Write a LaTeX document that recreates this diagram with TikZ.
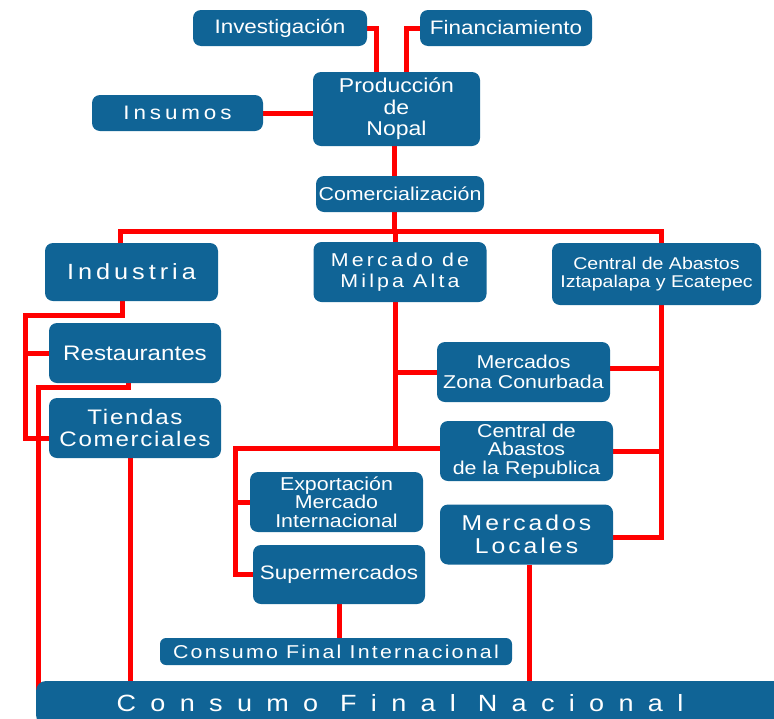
\documentclass[tikz,border=0pt]{standalone}
\usepackage{fontspec}
\setmainfont{Liberation Sans}
\newfontfamily\boxfont[FakeStretch=1.15]{Liberation Sans}
\usepackage{tikz}
\usetikzlibrary{positioning, backgrounds}
\definecolor{boxblue}{RGB}{16,100,150}
\definecolor{linkred}{RGB}{255,0,0}

\begin{document}
\begin{tikzpicture}[x=1pt, y=-1pt,
  box/.style={fill=boxblue, rounded corners=8pt, text=white, align=center, inner sep=0pt,
    minimum width=173pt, minimum height=60pt, font=\boxfont\fontsize{19.5}{21}\selectfont},
  link/.style={draw=linkred, line width=5pt}]
\useasboundingbox (0,0) rectangle (774,718);
\clip (0,0) rectangle (774,718);

% Production
\node (prod) [box, minimum width=167pt, minimum height=74pt, font=\boxfont\fontsize{20}{21.5}\selectfont] at (396.5,109) {Producción\\de\\Nopal};
\node (inv) [box, above of=prod, node distance=81pt, xshift=-116.5pt, minimum width=174pt, minimum height=36pt] {Investigación};
\node (fin) [box, right of=inv, node distance=226pt, minimum width=172pt, minimum height=36pt] {Financiamiento};
\node (ins) [box, left of=prod, node distance=219pt, yshift=-4pt, minimum width=171pt, minimum height=36pt,
  font=\boxfont\fontsize{19.5}{21}\selectfont\addfontfeature{LetterSpace=20}] {Insumos};
\node (com) [box, below of=prod, node distance=85pt, xshift=3.5pt, minimum width=168pt, minimum height=36pt,
  font=\boxfont\fontsize{18.6}{20}\selectfont] {Comercialización};

% Channels
\node (milpa) [box, below of=com, node distance=78pt, font=\boxfont\fontsize{18.6}{21}\selectfont\addfontfeature{LetterSpace=17}] {Mercado de\\Milpa Alta};
\node (ind) [box, left of=milpa, node distance=268.5pt, minimum height=58pt,
  font=\boxfont\fontsize{22}{24}\selectfont\addfontfeature{LetterSpace=18}] {Industria};
\node (ceda) [box, right of=milpa, node distance=256.5pt, yshift=-2pt, minimum width=209pt, minimum height=62pt,
  font=\boxfont\fontsize{17}{18.5}\selectfont] {Central de Abastos\\Iztapalapa y Ecatepec};
\node (rest) [box, below of=ind, node distance=81pt, xshift=3.5pt, minimum width=172pt, font=\boxfont\fontsize{21}{22}\selectfont] {Restaurantes};
\node (tiendas) [box, below of=rest, node distance=75pt, minimum width=172pt,
  font=\boxfont\fontsize{21}{22}\selectfont\addfontfeature{LetterSpace=8}] {Tiendas\\Comerciales};
\node (zona) [box, below of=milpa, node distance=100pt, xshift=123.5pt, font=\boxfont\fontsize{18.6}{20}\selectfont] {Mercados\\Zona Conurbada};
\node (rep) [box, below of=zona, node distance=79pt, xshift=3pt, font=\boxfont\fontsize{18.6}{18.5}\selectfont] {Central de\\Abastos\\de la Republica};
\node (locales) [box, below of=rep, node distance=83.5pt,
  font=\boxfont\fontsize{21.5}{23}\selectfont\addfontfeature{LetterSpace=14}] {Mercados\\Locales};
\node (expo) [box, left of=rep, node distance=190pt, yshift=-51pt, font=\boxfont\fontsize{18.6}{18.5}\selectfont] {Exportación\\Mercado\\Internacional};
\node (super) [box, below of=expo, node distance=72.5pt, xshift=2.5pt, minimum width=172pt, minimum height=59pt] {Supermercados};

% Final consumption
\node (cfi) [box, below of=super, node distance=77pt, xshift=-3pt, minimum width=352pt, minimum height=27pt, rounded corners=6pt,
  font=\boxfont\fontsize{18.6}{20}\selectfont\addfontfeature{LetterSpace=12}] {Consumo Final Internacional};
\node (cfn) [box, below of=cfi, node distance=51.5pt, xshift=95pt, minimum width=790pt, minimum height=44pt, rounded corners=10pt,
  font=\boxfont\fontsize{23.5}{26}\selectfont\addfontfeature{LetterSpace=61}] {Consumo Final Nacional\hspace*{62pt}};

\begin{scope}[on background layer]
% Inputs to production
\draw[link] (inv.east) -| ([xshift=-20.5pt]prod.north);
\draw[link] (fin.west) -| ([xshift=10pt]prod.north);
\draw[link] (ins.east) -- (ins.east -| prod.west);
\draw[link] ([xshift=-2.5pt]prod.south) -- ([xshift=-2.5pt]prod.south |- com.north);

% Main bus
\coordinate (busL) at (120,231);
\coordinate (busR) at (661,231);
\draw[link] ([xshift=-6pt]com.south) -- ([xshift=-6pt]com.south |- busL);
\draw[link] (busL |- ind.north) -- (busL) -- (busR) -- (busR |- ceda.north);
\draw[link] ([xshift=-5pt]milpa.north) -- ([xshift=-5pt]milpa.north |- busL);

% Industria branch
\coordinate (indL) at (25,315);
\coordinate (restL) at (38,387);
\draw[link] ([xshift=-9.5pt]ind.south) |- (indL) |- ([yshift=-10pt]tiendas.west);
\draw[link] (indL |- rest.west) -- (rest.west);
\draw[link] ([xshift=-7pt]rest.south) |- (restL) -- (restL |- cfn.center);
\draw[link] ([xshift=-5pt]tiendas.south) -- ([xshift=-5pt]tiendas.south |- cfn.north);

% Milpa Alta branch
\coordinate (milpaB) at (395,448);
\coordinate (expoL) at (235,448);
\draw[link] ([xshift=-5pt]milpa.south) -- (milpaB) -- (milpaB -| rep.west);
\draw[link] (milpaB |- zona.west) -- (zona.west);
\draw[link] (milpaB) -- (expoL) |- (super.west);
\draw[link] (expoL |- expo.west) -- (expo.west);

% Central de Abastos branch
\coordinate (cedaB) at (661,537);
\draw[link] ([xshift=4.5pt]ceda.south) -- (cedaB) -- (cedaB -| locales.east);
\draw[link] ([yshift=4pt]zona.east) -- ([yshift=4pt]zona.east -| cedaB);
\draw[link] (rep.east) -- (rep.east -| cedaB);

% To final consumption
\draw[link] (super.south) -- (super.south |- cfi.north);
\draw[link] ([xshift=2.5pt]locales.south) -- ([xshift=2.5pt]locales.south |- cfn.north);
\end{scope}
\end{tikzpicture}
\end{document}
